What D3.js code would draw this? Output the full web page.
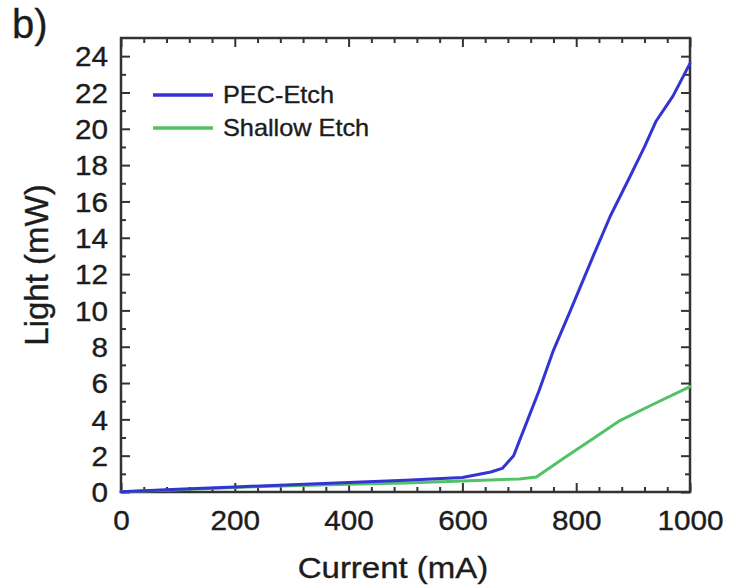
<!DOCTYPE html>
<html>
<head>
<meta charset="utf-8">
<script src="https://cdn.jsdelivr.net/npm/d3@7"></script>
<style>
  html, body { margin: 0; padding: 0; background: #fff; }
  svg { display: block; }
  text { font-family: "Liberation Sans", Arial, sans-serif; fill: #1c1c1c; stroke: #1c1c1c; stroke-width: 0.35px; }
</style>
</head>
<body>
<svg id="chart" width="730" height="588"></svg>
<script>
// L-I curves of the two laser structures
const pecCurrent = [0, 100, 200, 300, 400, 500, 600, 650, 670, 690, 710, 735, 760, 790, 830, 860, 895, 920, 940, 970, 1000];
const pecLight   = [0.02, 0.15, 0.28, 0.40, 0.52, 0.65, 0.80, 1.10, 1.30, 2.00, 3.60, 5.60, 7.80, 10.0, 13.0, 15.2, 17.4, 19.0, 20.4, 21.8, 23.6];

const shallowCurrent = [0, 100, 200, 300, 400, 500, 600, 700, 730, 780, 830, 875, 930, 1000];
const shallowLight   = [0.02, 0.12, 0.25, 0.35, 0.42, 0.50, 0.60, 0.72, 0.82, 1.90, 2.95, 3.90, 4.75, 5.80];

const seriesNames = ["PEC-Etch", "Shallow Etch"];
const seriesColors = ["#3434d2", "#52c266"];

const xTicks = [0, 200, 400, 600, 800, 1000];
const yTicks = [0, 2, 4, 6, 8, 10, 12, 14, 16, 18, 20, 22, 24];

const panelLabel = "b)";
const xTitle = "Current (mA)";
const yTitle = "Light (mW)";

const svg = d3.select("#chart");
const plotLeft = 121, plotRight = 690, plotTop = 38, plotBottom = 492;
const stretch = 1.1; // glyphs are drawn slightly wide

const x = d3.scaleLinear().domain([0, 1000]).range([plotLeft, plotRight]);
const y = d3.scaleLinear().domain([0, 25]).range([plotBottom, plotTop]);

const axisColor = "#333";
const major = 9, minor = 5;

function styleAxis(g) {
  g.select(".domain").remove();
  g.selectAll("line").attr("stroke", axisColor).attr("stroke-width", 2);
}

// minor ticks
const xMinor = d3.range(0, 1001, 40).filter(v => v % 200 !== 0);
const yMinor = d3.range(1, 25, 2);

// bottom axis
svg.append("g").attr("transform", `translate(0,${plotBottom})`)
  .call(d3.axisTop(x).tickValues(xMinor).tickSize(minor).tickFormat(""))
  .call(styleAxis);
const gx = svg.append("g").attr("transform", `translate(0,${plotBottom})`)
  .call(d3.axisTop(x).tickValues(xTicks).tickSize(major).tickFormat(d3.format("d")))
  .call(styleAxis);
gx.selectAll("text")
  .attr("y", 38).attr("dy", 0)
  .attr("font-size", 27).attr("fill", null)
  .attr("text-anchor", "middle")
  .attr("transform", `scale(${stretch},1)`)
  .attr("x", 0);

// top axis (ticks only)
svg.append("g").attr("transform", `translate(0,${plotTop})`)
  .call(d3.axisBottom(x).tickValues(xMinor).tickSize(minor).tickFormat(""))
  .call(styleAxis);
svg.append("g").attr("transform", `translate(0,${plotTop})`)
  .call(d3.axisBottom(x).tickValues(xTicks).tickSize(major).tickFormat(""))
  .call(styleAxis);

// left axis
svg.append("g").attr("transform", `translate(${plotLeft},0)`)
  .call(d3.axisRight(y).tickValues(yMinor).tickSize(minor).tickFormat(""))
  .call(styleAxis);
const gy = svg.append("g").attr("transform", `translate(${plotLeft},0)`)
  .call(d3.axisRight(y).tickValues(yTicks).tickSize(major).tickFormat(d3.format("d")))
  .call(styleAxis);
gy.selectAll("text")
  .attr("text-anchor", "end")
  .attr("x", -13 / stretch)
  .attr("dy", "0.36em")
  .attr("font-size", 27).attr("fill", null)
  .attr("transform", `scale(${stretch},1)`);

// right axis (ticks only)
svg.append("g").attr("transform", `translate(${plotRight},0)`)
  .call(d3.axisLeft(y).tickValues(yMinor).tickSize(minor).tickFormat(""))
  .call(styleAxis);
svg.append("g").attr("transform", `translate(${plotRight},0)`)
  .call(d3.axisLeft(y).tickValues(yTicks).tickSize(major).tickFormat(""))
  .call(styleAxis);

// plot frame
svg.append("rect")
  .attr("x", plotLeft).attr("y", plotTop)
  .attr("width", plotRight - plotLeft).attr("height", plotBottom - plotTop)
  .attr("fill", "none").attr("stroke", axisColor).attr("stroke-width", 2.5);

// curves
const line = d3.line()
  .x(d => x(d[0])).y(d => y(d[1]));

const series = [
  d3.zip(shallowCurrent, shallowLight),
  d3.zip(pecCurrent, pecLight)
];
const seriesOrder = [1, 0];

svg.append("g").selectAll("path")
  .data(series)
  .join("path")
  .attr("d", line)
  .attr("fill", "none")
  .attr("stroke", (d, i) => seriesColors[seriesOrder[i]])
  .attr("stroke-width", 3)
  .attr("stroke-linejoin", "round")
  .attr("stroke-linecap", "round");

// legend
const legend = svg.append("g").attr("transform", "translate(153,95)");
seriesNames.forEach((name, i) => {
  const row = legend.append("g").attr("transform", `translate(0,${i * 33})`);
  row.append("line")
    .attr("x1", 0).attr("x2", 60).attr("y1", 0).attr("y2", 0)
    .attr("stroke", seriesColors[i]).attr("stroke-width", 3.5);
  row.append("text")
    .attr("x", 70 / stretch).attr("y", 0).attr("dy", "0.36em")
    .attr("font-size", 23)
    .attr("transform", `scale(${stretch},1)`)
    .text(name);
});

// axis titles
svg.append("text")
  .attr("transform", `translate(393,578) scale(${stretch},1)`)
  .attr("text-anchor", "middle")
  .attr("font-size", 30)
  .text(xTitle);

svg.append("text")
  .attr("transform", "translate(48,265) rotate(-90)")
  .attr("text-anchor", "middle")
  .attr("font-size", 33)
  .text(yTitle);

// panel label
svg.append("text")
  .attr("x", 12).attr("y", 38)
  .attr("font-size", 40)
  .text(panelLabel);
</script>
</body>
</html>
